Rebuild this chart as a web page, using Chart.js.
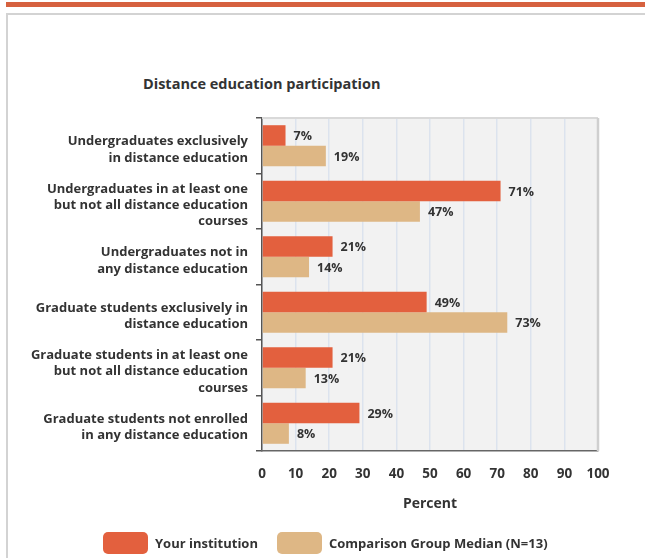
<!DOCTYPE html>
<html>
<head>
<meta charset="utf-8">
<script src="https://cdn.jsdelivr.net/npm/chart.js@4.4.1/dist/chart.umd.min.js"></script>
<style>
  html, body { margin: 0; padding: 0; background: #fff; }
  body { width: 645px; height: 558px; overflow: hidden; position: relative; font-family: "Open Sans", sans-serif; }
  #banner { position: absolute; left: 6px; top: 2px; width: 700px; height: 5px; background: #D6613F; }
  #frame { position: absolute; left: 6px; top: 13px; width: 700px; height: 600px; border-left: 2px solid #d3d3d3; border-top: 2px solid #d3d3d3; }
  #title { position: absolute; left: 143px; top: 74px; font-size: 14.5px; font-weight: 700; color: #333; white-space: nowrap; }
  #chart { position: absolute; left: 0; top: 0; }
  #legend { position: absolute; left: 103px; top: 532px; display: flex; align-items: center; white-space: nowrap; }
  .lg-item { display: flex; align-items: center; margin-right: 19px; }
  .lg-box { width: 45px; height: 22px; border-radius: 5px; margin-right: 7px; }
  .lg-text { font-size: 13px; font-weight: 700; color: #333; }
</style>
</head>
<body>
<div id="banner"></div>
<div id="frame"></div>
<div id="title">Distance education participation</div>
<canvas id="chart" width="645" height="558"></canvas>
<div id="legend"></div>
<script>
const categories = [
  ["Undergraduates exclusively", "in distance education"],
  ["Undergraduates in at least one", "but not all distance education", "courses"],
  ["Undergraduates not in", "any distance education"],
  ["Graduate students exclusively in", "distance education"],
  ["Graduate students in at least one", "but not all distance education", "courses"],
  ["Graduate students not enrolled", "in any distance education"]
];
const seriesNames = ["Your institution", "Comparison Group Median (N=13)"];
const yourInstitution = [7, 71, 21, 49, 21, 29];
const comparisonMedian = [19, 47, 14, 73, 13, 8];
const xTicks = [0, 10, 20, 30, 40, 50, 60, 70, 80, 90, 100];
const xTitle = "Percent";

const FONT = '"Open Sans", sans-serif';
const TEXT = '#333333';

const plotBg = {
  id: 'plotBg',
  beforeDraw(chart) {
    const {ctx, chartArea: a} = chart;
    ctx.save();
    ctx.fillStyle = '#F2F2F2';
    ctx.fillRect(a.left, a.top, a.right - a.left, a.bottom - a.top);
    ctx.restore();
  },
  afterDraw(chart) {
    const {ctx, chartArea: a} = chart;
    ctx.save();
    ctx.strokeStyle = '#D9D9D9';
    ctx.lineWidth = 2;
    ctx.beginPath();
    ctx.moveTo(a.left, a.top);
    ctx.lineTo(a.right, a.top);
    ctx.stroke();
    ctx.strokeStyle = '#CFCFCF';
    ctx.lineWidth = 2.5;
    ctx.beginPath();
    ctx.moveTo(a.right, a.top);
    ctx.lineTo(a.right, a.bottom);
    ctx.stroke();
    ctx.restore();
  }
};

const valueLabels = {
  id: 'valueLabels',
  afterDatasetsDraw(chart) {
    const {ctx} = chart;
    ctx.save();
    ctx.font = '700 12.5px ' + FONT;
    ctx.fillStyle = TEXT;
    ctx.textAlign = 'left';
    ctx.textBaseline = 'middle';
    chart.data.datasets.forEach((ds, di) => {
      const meta = chart.getDatasetMeta(di);
      meta.data.forEach((bar, i) => {
        ctx.fillText(ds.data[i] + '%', bar.x + 8, bar.y + 1);
      });
    });
    ctx.restore();
  }
};

const chart = new Chart(document.getElementById('chart'), {
  type: 'bar',
  data: {
    labels: categories,
    datasets: [
      { label: seriesNames[0], data: yourInstitution, backgroundColor: '#E3603E', borderWidth: 0 },
      { label: seriesNames[1], data: comparisonMedian, backgroundColor: '#DEB785', borderWidth: 0 }
    ]
  },
  options: {
    indexAxis: 'y',
    responsive: false,
    animation: false,
    devicePixelRatio: 1,
    datasets: { bar: { categoryPercentage: 0.74, barPercentage: 1.0 } },
    layout: { padding: { left: 0, top: 118, right: 47, bottom: 40 } },
    plugins: {
      legend: { display: false },
      tooltip: { enabled: false },
      title: { display: false }
    },
    scales: {
      y: {
        type: 'category',
        afterFit(scale) { scale.width = 262; },
        grid: { drawOnChartArea: false, drawTicks: true, tickLength: 6, color: '#555', lineWidth: 1.5 },
        border: { display: true, color: '#555', width: 1.5 },
        ticks: { color: TEXT, font: { family: FONT, size: 13, weight: '700', lineHeight: 1.25 }, padding: 8, labelOffset: 4 }
      },
      x: {
        min: 0, max: 100,
        afterFit(scale) { scale.height = 67; },
        afterBuildTicks(scale) { scale.ticks = xTicks.map(v => ({ value: v })); },
        grid: { drawTicks: false, color: '#DCE3EE', lineWidth: 1.5 },
        border: { display: true, color: '#666', width: 1.5 },
        ticks: { color: TEXT, font: { family: FONT, size: 13.5, weight: '700' }, padding: 15, maxRotation: 0 },
        title: { display: true, text: xTitle, color: TEXT, font: { family: FONT, size: 14, weight: '700' }, padding: { top: 4, bottom: 6 } }
      }
    }
  },
  plugins: [plotBg, valueLabels]
});

// HTML legend built from the chart's datasets
const legendEl = document.getElementById('legend');
chart.data.datasets.forEach(ds => {
  const item = document.createElement('div');
  item.className = 'lg-item';
  const box = document.createElement('div');
  box.className = 'lg-box';
  box.style.background = ds.backgroundColor;
  const txt = document.createElement('span');
  txt.className = 'lg-text';
  txt.textContent = ds.label;
  item.appendChild(box);
  item.appendChild(txt);
  legendEl.appendChild(item);
});
</script>
</body>
</html>
